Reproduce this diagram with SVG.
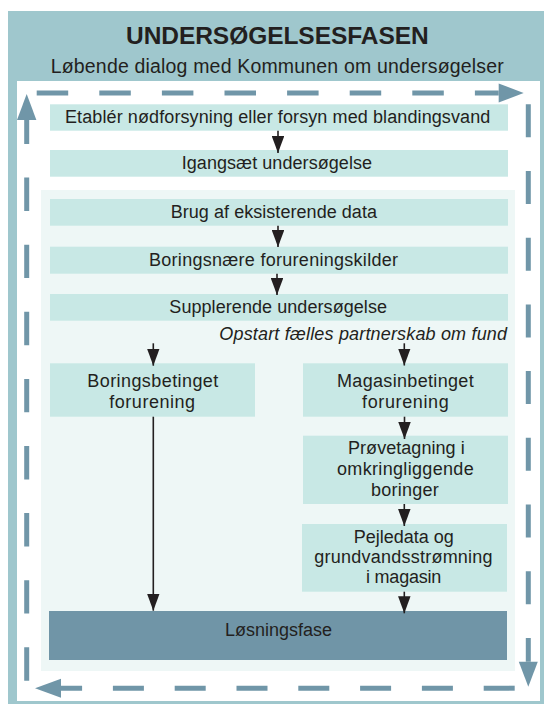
<svg xmlns="http://www.w3.org/2000/svg" width="544" height="704" viewBox="0 0 544 704">
  <defs>
    <marker id="ah" viewBox="0 0 17 12.5" refX="17" refY="6.25" markerWidth="17" markerHeight="12.5" markerUnits="userSpaceOnUse" orient="auto">
      <path d="M0,0 L17,6.25 L0,12.5 Z" fill="#231F20"/>
    </marker>
  </defs>
  <style>
    .t { font-family: "Liberation Sans", Arial, sans-serif; font-size: 18px; fill: #231F20; }
    .node { fill: #C8E8E5; }
    .final { fill: #7095A7; }
    .conn { stroke: #231F20; stroke-width: 1.6; fill: none; marker-end: url(#ah); }
    .loop { stroke: #7096A8; stroke-width: 5; fill: none; }
    .loophead { fill: #7096A8; }
  </style>

  <!-- frame -->
  <g id="frame">
    <rect x="8" y="11" width="540" height="700" fill="#9FC7CD"/>
    <rect x="17" y="81" width="523" height="620" fill="#FFFFFF"/>
    <text class="t" x="126" y="44.3" style="font-size:24.5px;font-weight:bold" textLength="302.7">UNDERSØGELSESFASEN</text>
    <text class="t" x="50.7" y="72.7" style="font-size:19.5px" textLength="453">Løbende dialog med Kommunen om undersøgelser</text>
    <rect x="41" y="190" width="474" height="481" fill="#EEF7F6"/>
  </g>

  <!-- dashed loop -->
  <g id="loop">
    <line class="loop" x1="36.7" y1="93" x2="498.7" y2="93" stroke-dasharray="31.5 31.1"/>
    <polygon class="loophead" points="498.7,83.5 523.7,93 498.7,102.5"/>
    <line class="loop" x1="528.3" y1="104.3" x2="528.3" y2="661.7" stroke-dasharray="33 33.7"/>
    <polygon class="loophead" points="518.8,661.7 528.3,686.7 537.8,661.7"/>
    <line class="loop" x1="514.7" y1="688.2" x2="61" y2="688.2" stroke-dasharray="31 30.8"/>
    <polygon class="loophead" points="61,678.7 35,688.2 61,697.7"/>
    <line class="loop" x1="26.7" y1="680.7" x2="26.7" y2="120" stroke-dasharray="33.4 33.7"/>
    <polygon class="loophead" points="17,120 26.7,94 36.4,120"/>
  </g>

  <g id="etabler">
    <rect class="node" x="50" y="104.3" width="458" height="26.4"/>
    <text class="t" x="65" y="123.3" textLength="425.3">Etablér nødforsyning eller forsyn med blandingsvand</text>
  </g>
  <g id="igangsaet">
    <rect class="node" x="50" y="150" width="458" height="26.7"/>
    <text class="t" x="181.7" y="169.2" textLength="190.3">Igangsæt undersøgelse</text>
  </g>
  <g id="brug">
    <rect class="node" x="50" y="199" width="458" height="26.7"/>
    <text class="t" x="170.7" y="218.2" textLength="206.3">Brug af eksisterende data</text>
  </g>
  <g id="boringsnaere">
    <rect class="node" x="50" y="246.7" width="458" height="27"/>
    <text class="t" x="149" y="266.1" textLength="249">Boringsnære forureningskilder</text>
  </g>
  <g id="supplerende">
    <rect class="node" x="50" y="294" width="458" height="26.7"/>
    <text class="t" x="169.3" y="313.2" textLength="217.7">Supplerende undersøgelse</text>
  </g>
  <g id="boringsbetinget">
    <rect class="node" x="50" y="363.3" width="205" height="53.4"/>
    <text class="t" x="87.3" y="386.7" textLength="131">Boringsbetinget</text>
    <text class="t" x="109.3" y="407.7" textLength="85.7">forurening</text>
  </g>
  <g id="magasinbetinget">
    <rect class="node" x="303" y="363.3" width="205" height="53.4"/>
    <text class="t" x="337" y="386.7" textLength="136.7">Magasinbetinget</text>
    <text class="t" x="362" y="407.7" textLength="86.7">forurening</text>
  </g>
  <g id="provetagning">
    <rect class="node" x="303" y="435.7" width="205" height="68.3"/>
    <text class="t" x="348" y="454.3" textLength="116.7">Prøvetagning i</text>
    <text class="t" x="337" y="475.3" textLength="136.7">omkringliggende</text>
    <text class="t" x="371" y="496.3" textLength="67.7">boringer</text>
  </g>
  <g id="pejledata">
    <rect class="node" x="302" y="524" width="205" height="67.7"/>
    <text class="t" x="353.7" y="543.3" textLength="100">Pejledata og</text>
    <text class="t" x="314.3" y="563.3" textLength="178.3">grundvandsstrømning</text>
    <text class="t" x="366" y="583.3" textLength="75.3">i magasin</text>
  </g>
  <g id="losningsfase">
    <rect class="final" x="49" y="611" width="458" height="49"/>
    <text class="t" x="225" y="636" textLength="107">Løsningsfase</text>
  </g>

  <g id="connectors">
    <line class="conn" x1="278" y1="130.7" x2="278" y2="153"/>
    <line class="conn" x1="278" y1="225.7" x2="278" y2="247"/>
    <line class="conn" x1="277" y1="273.7" x2="277" y2="295"/>
    <line class="conn" x1="153.3" y1="343.3" x2="153.3" y2="365.7"/>
    <line class="conn" x1="404.3" y1="343.3" x2="404.3" y2="365.5"/>
    <line class="conn" x1="404.5" y1="416.7" x2="404.5" y2="439"/>
    <line class="conn" x1="404.3" y1="504" x2="404.3" y2="526"/>
    <line class="conn" x1="404.3" y1="591.7" x2="404.3" y2="613.3"/>
    <line class="conn" x1="153.3" y1="416.7" x2="153.3" y2="610.7"/>
    <text class="t" x="219.3" y="340" style="font-style:italic" textLength="287.7">Opstart fælles partnerskab om fund</text>
  </g>
</svg>
